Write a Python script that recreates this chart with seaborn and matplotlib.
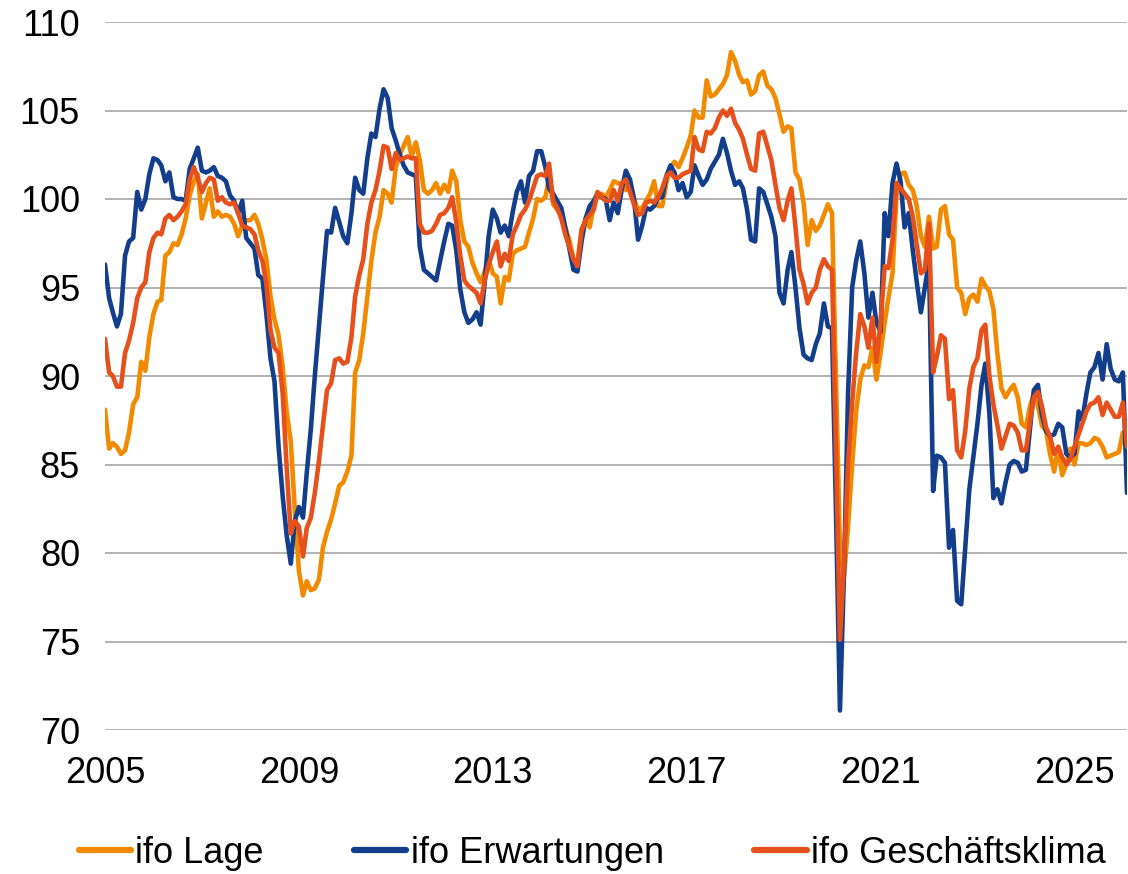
import pandas as pd
import matplotlib.pyplot as plt
from matplotlib.lines import Line2D
import seaborn as sns

# Monatswerte Jan 2005 bis Feb 2026
monate = pd.date_range('2005-01-01', periods=254, freq='MS')

lage = [
    88.1, 85.9, 86.2, 86.0, 85.6, 85.8, 86.8, 88.4, 88.8, 90.8, 90.3, 92.2,  # 2005
    93.5, 94.2, 94.3, 96.8, 97.0, 97.5, 97.4, 98.0, 98.9, 100.2, 101.0, 101.4,  # 2006
    98.9, 99.8, 100.6, 99.0, 99.3, 99.0, 99.1, 99.0, 98.6, 97.9, 98.5, 98.8,  # 2007
    98.8, 99.1, 98.6, 97.7, 96.6, 94.5, 93.2, 92.3, 90.5, 88.0, 86.3, 82.5,  # 2008
    79.0, 77.6, 78.4, 77.9, 78.0, 78.5, 80.3, 81.2, 81.9, 82.8, 83.8, 84.0,  # 2009
    84.6, 85.5, 90.2, 90.9, 92.4, 94.5, 96.5, 98.1, 99.0, 100.5, 100.3, 99.8,  # 2010
    101.8, 102.5, 103.0, 103.5, 102.4, 103.2, 102.2, 100.5, 100.3, 100.5, 100.9, 100.3,  # 2011
    100.8, 100.4, 101.6, 101.0, 98.8, 97.6, 97.3, 96.4, 95.8, 95.3, 95.9, 96.6,  # 2012
    95.8, 95.6, 94.1, 95.6, 95.4, 96.9, 97.1, 97.2, 97.3, 98.1, 98.9, 100.0,  # 2013
    99.9, 100.1, 101.2, 99.7, 99.4, 99.1, 98.4, 97.7, 96.6, 96.4, 98.3, 98.8,  # 2014
    98.4, 99.6, 100.2, 100.3, 100.1, 100.5, 101.0, 100.9, 100.8, 100.5, 100.9, 100.0,  # 2015
    99.4, 99.5, 99.9, 100.3, 101.0, 99.6, 99.6, 100.9, 101.8, 102.1, 101.8, 102.3,  # 2016
    102.9, 103.6, 105.0, 104.6, 104.6, 106.7, 105.8, 105.9, 106.2, 106.5, 107.0, 108.3,  # 2017
    107.8, 107.0, 106.6, 106.7, 105.9, 106.1, 107.0, 107.2, 106.4, 106.2, 105.7, 104.8,  # 2018
    103.8, 104.1, 104.0, 101.5, 101.1, 99.8, 97.4, 98.8, 98.2, 98.5, 99.1, 99.7,  # 2019
    99.2, 89.6, 80.3, 78.7, 81.5, 85.0, 88.0, 89.8, 90.6, 90.5, 91.6, 89.8,  # 2020
    91.3, 93.0, 94.4, 95.8, 100.2, 101.4, 101.5, 100.8, 100.5, 99.6, 97.9, 97.3,  # 2021
    99.0, 97.2, 97.3, 99.4, 99.6, 98.0, 97.7, 95.0, 94.7, 93.5, 94.4, 94.6,  # 2022
    94.2, 95.5, 95.1, 94.8, 93.8, 91.2, 89.3, 88.8, 89.2, 89.5, 88.8, 87.3,  # 2023
    87.1, 88.3, 89.0, 88.3, 87.2, 86.9, 85.6, 84.6, 86.0, 84.4, 85.0, 85.9,  # 2024
    85.0, 86.2, 86.2, 86.1, 86.2, 86.5, 86.4, 86.0, 85.4, 85.5, 85.6, 85.7,  # 2025
    86.8, 86.8,  # 2026
]

erwartungen = [
    96.3, 94.4, 93.6, 92.8, 93.5, 96.8, 97.6, 97.8, 100.4, 99.4, 100.0, 101.4,
    102.3, 102.2, 101.9, 101.0, 101.5, 100.1, 100.0, 100.0, 99.9, 101.7, 102.3, 102.9,
    101.6, 101.5, 101.6, 101.8, 101.3, 101.2, 101.0, 100.2, 99.9, 99.2, 99.9, 97.8,
    97.5, 97.2, 95.7, 95.5, 93.5, 91.0, 89.7, 86.0, 83.2, 81.0, 79.4, 81.8,
    82.6, 82.0, 84.5, 87.0, 90.0, 92.8, 95.5, 98.2, 98.1, 99.5, 98.7, 97.9,
    97.5, 99.2, 101.2, 100.5, 100.3, 102.3, 103.7, 103.5, 105.1, 106.2, 105.7, 104.0,
    103.3, 102.5, 101.9, 101.5, 101.4, 101.3, 97.3, 96.0, 95.8, 95.6, 95.4, 96.5,
    97.6, 98.6, 98.5, 97.1, 94.9, 93.6, 93.0, 93.2, 93.6, 92.9, 95.3, 97.9,
    99.4, 98.9, 98.1, 98.5, 97.9, 99.3, 100.4, 101.0, 99.8, 101.3, 101.6, 102.7,
    102.7, 101.8, 100.6, 100.3, 99.9, 99.5, 98.4, 97.2, 96.0, 95.9, 97.6, 98.9,
    99.6, 99.9, 100.3, 100.1, 100.0, 98.8, 99.8, 99.2, 100.6, 101.6, 101.1, 100.0,
    97.7, 98.5, 99.5, 99.4, 99.6, 100.1, 100.1, 101.3, 101.9, 101.5, 100.5, 100.9,
    100.1, 100.4, 101.9, 101.3, 100.8, 101.1, 101.7, 102.1, 102.5, 103.4, 102.6, 101.6,
    100.8, 101.0, 100.6, 99.4, 97.7, 97.6, 100.6, 100.4, 99.7, 99.0, 97.9, 94.7,
    94.1, 96.0, 97.0, 95.0, 92.7, 91.2, 91.0, 90.9, 91.8, 92.4, 94.1, 92.8,
    92.7, 82.0, 71.1, 79.0, 89.0, 95.0, 96.5, 97.6, 95.8, 93.3, 94.7, 93.0,
    92.5, 99.2, 97.9, 100.9, 102.0, 101.0, 98.4, 99.2, 97.1, 95.3, 93.6, 95.0,
    96.5, 83.5, 85.5, 85.4, 85.1, 80.3, 81.3, 77.3, 77.1, 80.3, 83.6, 85.4,
    87.3, 89.5, 90.7, 87.9, 83.1, 83.6, 82.8, 84.0, 85.0, 85.2, 85.1, 84.6,
    84.7, 87.0, 89.2, 89.5, 87.8, 86.9, 86.6, 86.7, 87.3, 87.1, 85.6, 85.4,
    85.6, 88.0, 87.5, 89.0, 90.2, 90.5, 91.3, 89.8, 91.8, 90.4, 89.8, 89.7,
    90.2, 83.4,
]

klima = [
    92.1, 90.2, 90.0, 89.4, 89.4, 91.3, 92.0, 93.0, 94.4, 95.0, 95.3, 97.0,
    97.8, 98.1, 98.0, 98.9, 99.1, 98.8, 99.0, 99.3, 99.7, 101.1, 101.8, 101.2,
    100.4, 100.9, 101.2, 101.1, 99.9, 100.1, 99.8, 99.7, 99.8, 99.2, 98.5, 98.4,
    98.3, 98.0, 97.1, 96.5, 95.2, 92.6, 91.6, 91.3, 89.0, 84.8, 81.1, 81.8,
    81.5, 79.8, 81.4, 82.0, 83.4, 85.2, 87.2, 89.2, 89.6, 90.9, 91.0, 90.7,
    90.8, 92.2, 94.5, 95.7, 96.6, 98.6, 99.8, 100.5, 101.6, 103.0, 102.9, 101.7,
    102.6, 102.2, 102.3, 102.4, 102.3, 102.3, 98.6, 98.1, 98.1, 98.2, 98.6, 99.1,
    99.2, 99.5, 100.1, 98.7, 96.8, 95.4, 95.1, 94.9, 94.7, 94.1, 95.4, 96.3,
    97.0, 97.6, 96.2, 96.9, 96.5, 98.0, 98.5, 99.1, 99.4, 99.9, 100.6, 101.3,
    101.4, 101.3, 102.0, 99.9, 99.5, 98.9, 98.0, 97.3, 96.6, 96.2, 98.2, 98.8,
    99.1, 99.4, 100.4, 100.1, 99.9, 99.9, 100.5, 99.9, 100.9, 101.1, 100.4, 99.7,
    99.1, 99.2, 99.8, 99.9, 99.8, 100.1, 100.6, 101.3, 101.5, 101.2, 101.2, 101.4,
    101.5, 101.6, 103.5, 102.8, 102.7, 103.8, 103.7, 104.0, 104.6, 105.0, 104.7, 105.1,
    104.3, 103.9, 103.4, 102.5, 101.7, 101.6, 103.7, 103.8, 103.0, 102.2, 100.8, 99.5,
    98.8, 99.9, 100.6, 98.4, 96.0, 95.2, 94.1, 94.7, 95.0, 96.0, 96.6, 96.2,
    96.0, 85.5, 75.1, 79.5, 85.0, 88.5, 91.3, 93.5, 92.8, 91.6, 93.3, 90.8,
    93.0, 96.2, 96.1, 97.7, 100.9, 100.6, 100.3, 100.0, 99.0, 97.4, 95.8, 96.0,
    98.6, 90.2, 91.1, 92.3, 92.1, 88.7, 89.2, 85.8, 85.4, 86.9, 89.3, 90.5,
    91.0, 92.6, 92.9, 90.0, 88.4, 87.2, 85.9, 86.6, 87.3, 87.2, 86.8, 85.8,
    85.8, 87.4, 88.8, 89.1, 88.3, 87.1, 86.6, 85.6, 86.0, 85.4, 85.0, 85.3,
    86.0, 86.7, 87.3, 88.0, 88.4, 88.5, 88.8, 87.8, 88.5, 88.1, 87.7, 87.7,
    88.5, 86.0,
]

serien = ['ifo Lage', 'ifo Erwartungen', 'ifo Geschäftsklima']
farben = {'ifo Lage': '#F28A00', 'ifo Erwartungen': '#123E8C', 'ifo Geschäftsklima': '#E5501B'}
jahre = [2005, 2009, 2013, 2017, 2021, 2025]

df = pd.DataFrame({'Monat': monate, serien[0]: lage, serien[1]: erwartungen, serien[2]: klima})
daten = df.melt(id_vars='Monat', var_name='Serie', value_name='Index')

sns.set_theme(style='white')
plt.rcParams['font.family'] = ['Liberation Sans', 'DejaVu Sans']
plt.rcParams['text.color'] = 'black'

fig = plt.figure(figsize=(11.28, 8.74), dpi=100)
ax = fig.add_axes([105 / 1128, 1 - 730 / 874, (1127 - 105) / 1128, (730 - 22) / 874])

sns.lineplot(data=daten, x='Monat', y='Index', hue='Serie', hue_order=serien,
             palette=farben, linewidth=3.3, legend=False, ax=ax)

# Achsen wie im Original: nur horizontale Gitterlinien
ax.set_ylim(70, 110)
ax.set_yticks(range(70, 111, 5))
ax.set_xlim(monate[0], monate[-1])
ax.set_xticks(pd.to_datetime([f'{j}-01-01' for j in jahre]))
ax.set_xticklabels([str(j) for j in jahre])
ax.grid(axis='y', color='#A6A6A6', linewidth=1.2)
ax.grid(axis='x', visible=False)
ax.set_axisbelow(True)
for s in ax.spines.values():
    s.set_visible(False)
ax.set_xlabel('')
ax.set_ylabel('')
ax.tick_params(axis='y', labelsize=26, length=0, pad=18, labelcolor='black')
ax.tick_params(axis='x', labelsize=26, length=0, pad=19, labelcolor='black')

# Legende unten
griffe = [Line2D([0], [0], color=farben[s], linewidth=4.5) for s in serien]
leg = fig.legend(griffe, serien, loc='center', bbox_to_anchor=(0.525, 0.024), ncol=3,
                 frameon=False, fontsize=26, handlelength=1.45, handletextpad=0.12,
                 columnspacing=2.5)
for t in leg.get_texts():
    t.set_color('black')

fig.savefig('out.png', dpi=100)
